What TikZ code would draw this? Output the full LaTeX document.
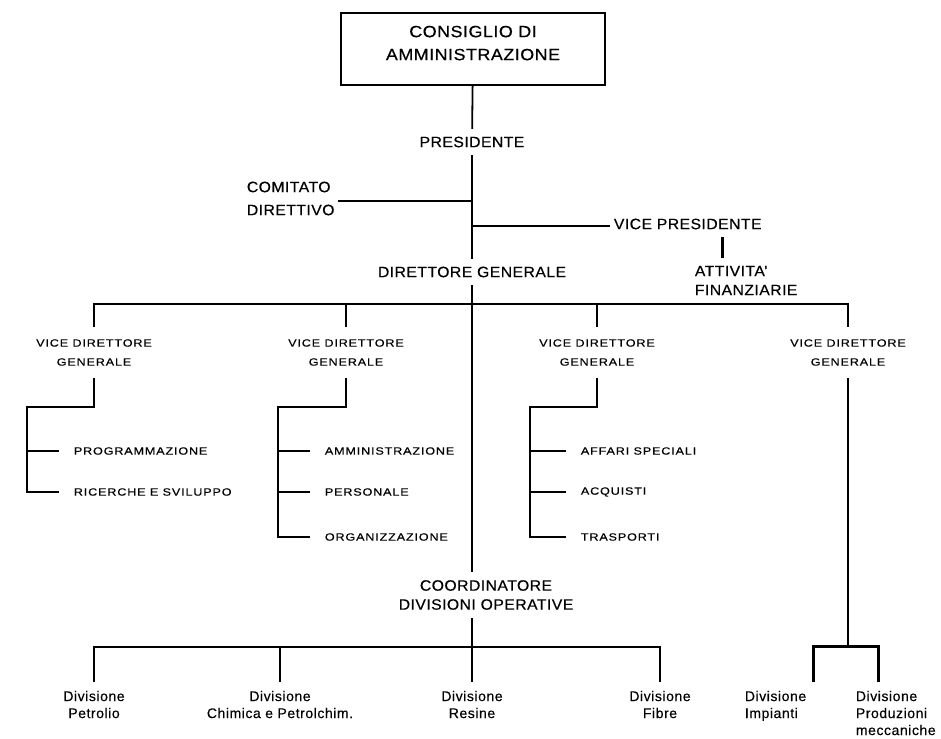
\documentclass[tikz,border=0pt]{standalone}
\usepackage{fontspec}
\usetikzlibrary{positioning}

\newfontfamily\boxfont[FakeStretch=1.1, LetterSpace=3, FakeBold=0.5]{Liberation Sans}
\newfontfamily\topfont[FakeStretch=1.05, LetterSpace=3, FakeBold=0.5]{Liberation Sans}
\newfontfamily\vdgfont[FakeStretch=1.2, LetterSpace=8, FakeBold=0.5]{Liberation Sans}
\newfontfamily\divfont[LetterSpace=4, FakeBold=0.3]{Liberation Sans}

\begin{document}
\begin{tikzpicture}[x=1pt, y=-1pt, line width=1.8pt,
  board/.style={draw, minimum width=264pt, minimum height=72pt, align=center,
    font=\boxfont\fontsize{16.3}{23}\selectfont},
  office/.style={align=center, inner xsep=3pt, inner ysep=7pt,
    font=\topfont\fontsize{15}{19}\selectfont},
  vicedir/.style={align=center, inner ysep=11pt,
    font=\vdgfont\fontsize{10.5}{19}\selectfont},
  service/.style={anchor=west, inner xsep=14pt, inner ysep=2pt,
    font=\vdgfont\fontsize{10.5}{13}\selectfont},
  division/.style={anchor=north, align=center, inner xsep=2pt, inner ysep=8pt,
    font=\divfont\fontsize{14}{17}\selectfont},
  heavy/.style={line width=3pt}]

\useasboundingbox (0,0) rectangle (941,738);

% vertice
\node[board] (cda) at (473,49) {CONSIGLIO DI\\AMMINISTRAZIONE\\[-11pt]\mbox{}};
\node[office] (pres) at (472,142) {PRESIDENTE};
\node[office, anchor=west, align=left] (cd) at (243,198.5) {COMITATO\\[4pt]DIRETTIVO};
\node[office, anchor=west] (vp) at (610,224) {VICE PRESIDENTE};
\node[office, anchor=west, align=left] (af) at (691,280.5) {ATTIVITA’\\FINANZIARIE};
\node[office] (dg) at (472,272) {DIRETTORE GENERALE};

\coordinate (jcd) at (472,201);
\coordinate (jvp) at (472,226);
\coordinate (bus) at (472,304);

\draw (cda) -- (pres);
\draw (pres) -- (dg);
\draw (cd.east |- jcd) -- (jcd);
\draw (jvp) -- (vp.west |- jvp);
\draw[heavy] ([xshift=35pt]vp.south) -- ([xshift=35pt]vp.south |- af.north);
\draw (dg) -- (bus);

% vice direttori generali
\node[vicedir] (vdg1) at (94,352.5) {VICE DIRETTORE\\GENERALE};
\node[vicedir] (vdg2) at (346,352.5) {VICE DIRETTORE\\GENERALE};
\node[vicedir] (vdg3) at (597,352.5) {VICE DIRETTORE\\GENERALE};
\node[vicedir] (vdg4) at (848,352.5) {VICE DIRETTORE\\GENERALE};

\draw (vdg1) |- (bus) -| (vdg4);
\draw (vdg2) -- (vdg2 |- bus);
\draw (vdg3) -- (vdg3 |- bus);

% servizi
\coordinate (k1) at (27,407);
\coordinate (k2) at (278,407);
\coordinate (k3) at (530,407);

\node[service] (prog) at (59,451) {PROGRAMMAZIONE};
\node[service] (ric) at (59,492) {RICERCHE E SVILUPPO};
\draw (vdg1) |- (k1) |- (ric);
\draw (k1 |- prog) -- (prog);

\node[service] (amm) at (310,451) {AMMINISTRAZIONE};
\node[service] (pers) at (310,492) {PERSONALE};
\node[service] (org) at (310,537) {ORGANIZZAZIONE};
\draw (vdg2) |- (k2) |- (org);
\draw (k2 |- amm) -- (amm);
\draw (k2 |- pers) -- (pers);

\node[service] (aff) at (566,451) {AFFARI SPECIALI};
\node[service] (acq) at (566,492) {ACQUISTI};
\node[service] (tra) at (566,537) {TRASPORTI};
\draw (vdg3) |- (k3) |- (tra);
\draw (k3 |- aff) -- (aff);
\draw (k3 |- acq) -- (acq);

% divisioni operative
\node[office] (cdo) at (486,595) {COORDINATORE\\DIVISIONI OPERATIVE};
\coordinate (bus2) at (472,647);
\draw (bus) -- (bus |- cdo.north);
\draw (cdo.south -| bus) -- (bus2);

\node[division] (dpet) at (94,682) {Divisione\\Petrolio};
\node[division] (dchi) at (280,682) {Divisione\\Chimica e Petrolchim.};
\node[division] (dres) at (472,682) {Divisione\\Resine};
\node[division] (dfib) at (660,682) {Divisione\\Fibre};
\draw (dpet) |- (bus2) -| (dfib);
\draw (dchi) -- (dchi |- bus2);
\draw (bus2) -- (dres);

\coordinate (r1) at (813,646);
\coordinate (r2) at (878,646);
\node[division, anchor=north west, align=left] (dimp) at (742,682) {Divisione\\Impianti};
\node[division, anchor=north west, align=left] (dpro) at (853,682) {Divisione\\Produzioni\\meccaniche};
\draw (vdg4) -- (vdg4 |- r1);
\draw[heavy] (r1 |- dimp.north) -- (r1) -- (r2) -- (r2 |- dpro.north);

\end{tikzpicture}
\end{document}
